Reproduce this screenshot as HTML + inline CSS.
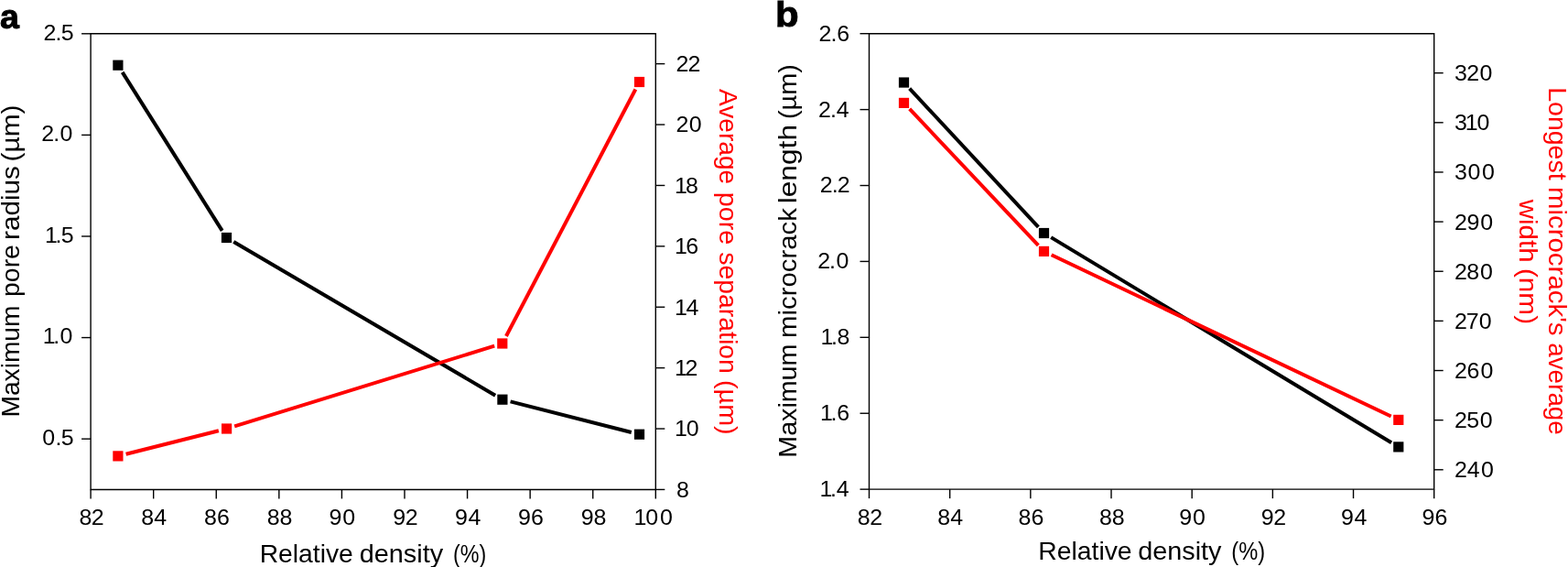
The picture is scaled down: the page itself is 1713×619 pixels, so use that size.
<!DOCTYPE html>
<html lang="en"><head><meta charset="utf-8"><title>Figure</title>
<style>
html,body{margin:0;padding:0;background:#fff;}
svg{display:block;font-family:'Liberation Sans', sans-serif;}
</style></head>
<body>
<svg width="1713" height="619" viewBox="0 0 1713 619">
<rect width="1713" height="619" fill="#fff"/>
<text transform="translate(0 613.75)" font-size="27.2" fill="#000"><tspan x="283.65" textLength="102.17" lengthAdjust="spacingAndGlyphs">Relative</tspan> <tspan x="392.74" textLength="91.39" lengthAdjust="spacingAndGlyphs">density</tspan> <tspan x="494.91" textLength="36.27" lengthAdjust="spacingAndGlyphs">(%)</tspan></text>
<text transform="translate(0 610.60)" font-size="27.2" fill="#000"><tspan x="1134.25" textLength="102.38" lengthAdjust="spacingAndGlyphs">Relative</tspan> <tspan x="1243.24" textLength="91.29" lengthAdjust="spacingAndGlyphs">density</tspan> <tspan x="1345.29" textLength="36.81" lengthAdjust="spacingAndGlyphs">(%)</tspan></text>
<text transform="translate(21.30 0) rotate(-90)" font-size="27.2" fill="#000"><tspan x="-455.54" textLength="122.01" lengthAdjust="spacingAndGlyphs">Maximum</tspan> <tspan x="-323.95" textLength="56.80" lengthAdjust="spacingAndGlyphs">pore</tspan> <tspan x="-262.00" textLength="80.96" lengthAdjust="spacingAndGlyphs">radius</tspan> <tspan x="-176.51" textLength="62.04" lengthAdjust="spacingAndGlyphs">(µm)</tspan></text>
<text transform="translate(785.50 0) rotate(90)" font-size="27.2" fill="#ff0000"><tspan x="97.12" textLength="104.07" lengthAdjust="spacingAndGlyphs">Average</tspan> <tspan x="209.82" textLength="57.54" lengthAdjust="spacingAndGlyphs">pore</tspan> <tspan x="275.27" textLength="132.57" lengthAdjust="spacingAndGlyphs">separation</tspan> <tspan x="415.07" textLength="59.59" lengthAdjust="spacingAndGlyphs">(µm)</tspan></text>
<text transform="translate(870.20 0) rotate(-90)" font-size="27.2" fill="#000"><tspan x="-499.67" textLength="123.98" lengthAdjust="spacingAndGlyphs">Maximum</tspan> <tspan x="-368.99" textLength="141.94" lengthAdjust="spacingAndGlyphs">microcrack</tspan> <tspan x="-222.33" textLength="86.34" lengthAdjust="spacingAndGlyphs">length</tspan> <tspan x="-130.04" textLength="60.01" lengthAdjust="spacingAndGlyphs">(µm)</tspan></text>
<text transform="translate(1692.00 0) rotate(90)" font-size="27.2" fill="#ff0000"><tspan x="95.24" textLength="101.32" lengthAdjust="spacingAndGlyphs">Longest</tspan> <tspan x="203.90" textLength="162.70" lengthAdjust="spacingAndGlyphs">microcrack's</tspan> <tspan x="374.23" textLength="100.61" lengthAdjust="spacingAndGlyphs">average</tspan></text>
<text transform="translate(1660.10 0) rotate(90)" font-size="27.2" fill="#ff0000"><tspan x="217.79" textLength="68.74" lengthAdjust="spacingAndGlyphs">width</tspan> <tspan x="292.90" textLength="61.18" lengthAdjust="spacingAndGlyphs">(nm)</tspan></text>
<path d="M99.10 36.80H716.30V534.45H99.10Z" fill="none" stroke="#000" stroke-width="1.4" stroke-linejoin="miter"/>
<line x1="99.10" y1="534.45" x2="99.10" y2="544.45" stroke="#000" stroke-width="1.4" stroke-linecap="butt"/>
<text transform="translate(86.55 573.10) scale(1.04 1)" x="-0.09 12.75" font-size="24" fill="#000">82</text>
<line x1="167.68" y1="534.45" x2="167.68" y2="544.45" stroke="#000" stroke-width="1.4" stroke-linecap="butt"/>
<text transform="translate(154.23 573.10) scale(1.04 1)" x="-0.09 13.61" font-size="24" fill="#000">84</text>
<line x1="236.26" y1="534.45" x2="236.26" y2="544.45" stroke="#000" stroke-width="1.4" stroke-linecap="butt"/>
<text transform="translate(223.11 573.10) scale(1.04 1)" x="-0.09 13.33" font-size="24" fill="#000">86</text>
<line x1="304.83" y1="534.45" x2="304.83" y2="544.45" stroke="#000" stroke-width="1.4" stroke-linecap="butt"/>
<text transform="translate(291.93 573.10) scale(1.04 1)" x="-0.09 13.09" font-size="24" fill="#000">88</text>
<line x1="373.41" y1="534.45" x2="373.41" y2="544.45" stroke="#000" stroke-width="1.4" stroke-linecap="butt"/>
<text transform="translate(359.41 573.10) scale(1.04 1)" x="0.06 14.29" font-size="24" fill="#000">90</text>
<line x1="441.99" y1="534.45" x2="441.99" y2="544.45" stroke="#000" stroke-width="1.4" stroke-linecap="butt"/>
<text transform="translate(429.29 573.10) scale(1.04 1)" x="0.06 13.04" font-size="24" fill="#000">92</text>
<line x1="510.57" y1="534.45" x2="510.57" y2="544.45" stroke="#000" stroke-width="1.4" stroke-linecap="butt"/>
<text transform="translate(496.97 573.10) scale(1.04 1)" x="0.06 13.90" font-size="24" fill="#000">94</text>
<line x1="579.14" y1="534.45" x2="579.14" y2="544.45" stroke="#000" stroke-width="1.4" stroke-linecap="butt"/>
<text transform="translate(565.84 573.10) scale(1.04 1)" x="0.06 13.61" font-size="24" fill="#000">96</text>
<line x1="647.72" y1="534.45" x2="647.72" y2="544.45" stroke="#000" stroke-width="1.4" stroke-linecap="butt"/>
<text transform="translate(634.67 573.10) scale(1.04 1)" x="0.06 13.37" font-size="24" fill="#000">98</text>
<line x1="716.30" y1="534.45" x2="716.30" y2="544.45" stroke="#000" stroke-width="1.4" stroke-linecap="butt"/>
<text transform="translate(694.50 573.10) scale(1.04 1)" x="-1.87 10.44 25.44" font-size="24" fill="#000">100</text>
<line x1="89.10" y1="479.16" x2="99.10" y2="479.16" stroke="#000" stroke-width="1.4" stroke-linecap="butt"/>
<text transform="translate(45.30 485.86) scale(1.04 1)" x="0.83 14.55 20.54" font-size="24" fill="#000">0.5</text>
<line x1="89.10" y1="368.57" x2="99.10" y2="368.57" stroke="#000" stroke-width="1.4" stroke-linecap="butt"/>
<text transform="translate(48.70 375.27) scale(1.04 1)" x="-1.87 9.17 16.21" font-size="24" fill="#000">1.0</text>
<line x1="89.10" y1="257.98" x2="99.10" y2="257.98" stroke="#000" stroke-width="1.4" stroke-linecap="butt"/>
<text transform="translate(50.90 264.68) scale(1.04 1)" x="-1.87 9.17 15.15" font-size="24" fill="#000">1.5</text>
<line x1="89.10" y1="147.39" x2="99.10" y2="147.39" stroke="#000" stroke-width="1.4" stroke-linecap="butt"/>
<text transform="translate(45.70 154.09) scale(1.04 1)" x="-0.42 12.05 19.10" font-size="24" fill="#000">2.0</text>
<line x1="89.10" y1="36.80" x2="99.10" y2="36.80" stroke="#000" stroke-width="1.4" stroke-linecap="butt"/>
<text transform="translate(47.90 43.50) scale(1.04 1)" x="-0.42 12.05 18.04" font-size="24" fill="#000">2.5</text>
<line x1="716.30" y1="534.45" x2="726.30" y2="534.45" stroke="#000" stroke-width="1.4" stroke-linecap="butt"/>
<text transform="translate(739.00 542.75) scale(1.04 1)" x="-0.09" font-size="24" fill="#000">8</text>
<line x1="716.30" y1="468.05" x2="726.30" y2="468.05" stroke="#000" stroke-width="1.4" stroke-linecap="butt"/>
<text transform="translate(739.00 476.35) scale(1.04 1)" x="-1.87 10.44" font-size="24" fill="#000">10</text>
<line x1="716.30" y1="401.65" x2="726.30" y2="401.65" stroke="#000" stroke-width="1.4" stroke-linecap="butt"/>
<text transform="translate(739.00 409.95) scale(1.04 1)" x="-1.87 9.19" font-size="24" fill="#000">12</text>
<line x1="716.30" y1="335.25" x2="726.30" y2="335.25" stroke="#000" stroke-width="1.4" stroke-linecap="butt"/>
<text transform="translate(739.00 343.55) scale(1.04 1)" x="-1.87 10.06" font-size="24" fill="#000">14</text>
<line x1="716.30" y1="268.85" x2="726.30" y2="268.85" stroke="#000" stroke-width="1.4" stroke-linecap="butt"/>
<text transform="translate(739.00 277.15) scale(1.04 1)" x="-1.87 9.77" font-size="24" fill="#000">16</text>
<line x1="716.30" y1="202.45" x2="726.30" y2="202.45" stroke="#000" stroke-width="1.4" stroke-linecap="butt"/>
<text transform="translate(739.00 210.75) scale(1.04 1)" x="-1.87 9.53" font-size="24" fill="#000">18</text>
<line x1="716.30" y1="136.05" x2="726.30" y2="136.05" stroke="#000" stroke-width="1.4" stroke-linecap="butt"/>
<text transform="translate(739.00 144.35) scale(1.04 1)" x="-0.42 13.33" font-size="24" fill="#000">20</text>
<line x1="716.30" y1="69.65" x2="726.30" y2="69.65" stroke="#000" stroke-width="1.4" stroke-linecap="butt"/>
<text transform="translate(739.00 77.95) scale(1.04 1)" x="-0.42 12.08" font-size="24" fill="#000">22</text>
<line x1="133.70" y1="78.82" x2="242.70" y2="251.88" stroke="#000" stroke-width="4.0" stroke-linecap="butt"/>
<line x1="255.26" y1="264.05" x2="541.14" y2="431.65" stroke="#000" stroke-width="4.0" stroke-linecap="butt"/>
<line x1="557.62" y1="438.42" x2="689.78" y2="471.98" stroke="#000" stroke-width="4.0" stroke-linecap="butt"/>
<rect x="123.30" y="65.60" width="11.2" height="11.2" fill="#000"/>
<rect x="241.90" y="253.90" width="11.2" height="11.2" fill="#000"/>
<rect x="543.30" y="430.60" width="11.2" height="11.2" fill="#000"/>
<rect x="692.90" y="468.60" width="11.2" height="11.2" fill="#000"/>
<line x1="137.63" y1="495.70" x2="238.87" y2="470.20" stroke="#ff0000" stroke-width="4.0" stroke-linecap="butt"/>
<line x1="256.20" y1="465.34" x2="540.20" y2="377.66" stroke="#ff0000" stroke-width="4.0" stroke-linecap="butt"/>
<line x1="552.98" y1="367.03" x2="694.32" y2="97.47" stroke="#ff0000" stroke-width="4.0" stroke-linecap="butt"/>
<rect x="123.30" y="492.30" width="11.2" height="11.2" fill="#ff0000"/>
<rect x="242.00" y="462.40" width="11.2" height="11.2" fill="#ff0000"/>
<rect x="543.20" y="369.40" width="11.2" height="11.2" fill="#ff0000"/>
<rect x="692.90" y="83.90" width="11.2" height="11.2" fill="#ff0000"/>
<text x="0.10" y="31.10" font-size="37.5" text-anchor="start" fill="#000" font-weight="bold" stroke="#000" stroke-width="1.0">a</text>
<path d="M949.50 36.70H1566.70V534.15H949.50Z" fill="none" stroke="#000" stroke-width="1.4" stroke-linejoin="miter"/>
<line x1="949.50" y1="534.15" x2="949.50" y2="544.15" stroke="#000" stroke-width="1.4" stroke-linecap="butt"/>
<text transform="translate(936.95 573.10) scale(1.04 1)" x="-0.09 12.75" font-size="24" fill="#000">82</text>
<line x1="1037.67" y1="534.15" x2="1037.67" y2="544.15" stroke="#000" stroke-width="1.4" stroke-linecap="butt"/>
<text transform="translate(1024.22 573.10) scale(1.04 1)" x="-0.09 13.61" font-size="24" fill="#000">84</text>
<line x1="1125.84" y1="534.15" x2="1125.84" y2="544.15" stroke="#000" stroke-width="1.4" stroke-linecap="butt"/>
<text transform="translate(1112.69 573.10) scale(1.04 1)" x="-0.09 13.33" font-size="24" fill="#000">86</text>
<line x1="1214.01" y1="534.15" x2="1214.01" y2="544.15" stroke="#000" stroke-width="1.4" stroke-linecap="butt"/>
<text transform="translate(1201.11 573.10) scale(1.04 1)" x="-0.09 13.09" font-size="24" fill="#000">88</text>
<line x1="1302.19" y1="534.15" x2="1302.19" y2="544.15" stroke="#000" stroke-width="1.4" stroke-linecap="butt"/>
<text transform="translate(1288.19 573.10) scale(1.04 1)" x="0.06 14.29" font-size="24" fill="#000">90</text>
<line x1="1390.36" y1="534.15" x2="1390.36" y2="544.15" stroke="#000" stroke-width="1.4" stroke-linecap="butt"/>
<text transform="translate(1377.66 573.10) scale(1.04 1)" x="0.06 13.04" font-size="24" fill="#000">92</text>
<line x1="1478.53" y1="534.15" x2="1478.53" y2="544.15" stroke="#000" stroke-width="1.4" stroke-linecap="butt"/>
<text transform="translate(1464.93 573.10) scale(1.04 1)" x="0.06 13.90" font-size="24" fill="#000">94</text>
<line x1="1566.70" y1="534.15" x2="1566.70" y2="544.15" stroke="#000" stroke-width="1.4" stroke-linecap="butt"/>
<text transform="translate(1553.40 573.10) scale(1.04 1)" x="0.06 13.61" font-size="24" fill="#000">96</text>
<line x1="939.50" y1="534.15" x2="949.50" y2="534.15" stroke="#000" stroke-width="1.4" stroke-linecap="butt"/>
<text transform="translate(897.40 542.05) scale(1.04 1)" x="-1.87 9.17 15.83" font-size="24" fill="#000">1.4</text>
<line x1="939.50" y1="451.24" x2="949.50" y2="451.24" stroke="#000" stroke-width="1.4" stroke-linecap="butt"/>
<text transform="translate(898.00 459.14) scale(1.04 1)" x="-1.87 9.17 15.54" font-size="24" fill="#000">1.6</text>
<line x1="939.50" y1="368.33" x2="949.50" y2="368.33" stroke="#000" stroke-width="1.4" stroke-linecap="butt"/>
<text transform="translate(898.50 376.23) scale(1.04 1)" x="-1.87 9.17 15.30" font-size="24" fill="#000">1.8</text>
<line x1="939.50" y1="285.42" x2="949.50" y2="285.42" stroke="#000" stroke-width="1.4" stroke-linecap="butt"/>
<text transform="translate(893.60 293.32) scale(1.04 1)" x="-0.42 12.05 19.10" font-size="24" fill="#000">2.0</text>
<line x1="939.50" y1="202.52" x2="949.50" y2="202.52" stroke="#000" stroke-width="1.4" stroke-linecap="butt"/>
<text transform="translate(896.20 210.42) scale(1.04 1)" x="-0.42 12.05 17.85" font-size="24" fill="#000">2.2</text>
<line x1="939.50" y1="119.61" x2="949.50" y2="119.61" stroke="#000" stroke-width="1.4" stroke-linecap="butt"/>
<text transform="translate(894.40 127.51) scale(1.04 1)" x="-0.42 12.05 18.71" font-size="24" fill="#000">2.4</text>
<line x1="939.50" y1="36.70" x2="949.50" y2="36.70" stroke="#000" stroke-width="1.4" stroke-linecap="butt"/>
<text transform="translate(895.00 44.60) scale(1.04 1)" x="-0.42 12.05 18.42" font-size="24" fill="#000">2.6</text>
<line x1="1566.70" y1="512.80" x2="1576.70" y2="512.80" stroke="#000" stroke-width="1.4" stroke-linecap="butt"/>
<text transform="translate(1589.40 521.30) scale(1.04 1)" x="-0.42 12.94 27.56" font-size="24" fill="#000">240</text>
<line x1="1566.70" y1="458.66" x2="1576.70" y2="458.66" stroke="#000" stroke-width="1.4" stroke-linecap="butt"/>
<text transform="translate(1589.40 467.16) scale(1.04 1)" x="-0.42 12.27 26.21" font-size="24" fill="#000">250</text>
<line x1="1566.70" y1="404.52" x2="1576.70" y2="404.52" stroke="#000" stroke-width="1.4" stroke-linecap="butt"/>
<text transform="translate(1589.40 413.02) scale(1.04 1)" x="-0.42 12.65 26.98" font-size="24" fill="#000">260</text>
<line x1="1566.70" y1="350.38" x2="1576.70" y2="350.38" stroke="#000" stroke-width="1.4" stroke-linecap="butt"/>
<text transform="translate(1589.40 358.88) scale(1.04 1)" x="-0.42 11.79 25.25" font-size="24" fill="#000">270</text>
<line x1="1566.70" y1="296.24" x2="1576.70" y2="296.24" stroke="#000" stroke-width="1.4" stroke-linecap="butt"/>
<text transform="translate(1589.40 304.74) scale(1.04 1)" x="-0.42 12.41 26.50" font-size="24" fill="#000">280</text>
<line x1="1566.70" y1="242.10" x2="1576.70" y2="242.10" stroke="#000" stroke-width="1.4" stroke-linecap="butt"/>
<text transform="translate(1589.40 250.60) scale(1.04 1)" x="-0.42 12.56 26.79" font-size="24" fill="#000">290</text>
<line x1="1566.70" y1="187.96" x2="1576.70" y2="187.96" stroke="#000" stroke-width="1.4" stroke-linecap="butt"/>
<text transform="translate(1589.40 196.46) scale(1.04 1)" x="-0.33 13.52 28.52" font-size="24" fill="#000">300</text>
<line x1="1566.70" y1="133.82" x2="1576.70" y2="133.82" stroke="#000" stroke-width="1.4" stroke-linecap="butt"/>
<text transform="translate(1589.40 142.32) scale(1.04 1)" x="-0.33 10.83 23.13" font-size="24" fill="#000">310</text>
<line x1="1566.70" y1="79.68" x2="1576.70" y2="79.68" stroke="#000" stroke-width="1.4" stroke-linecap="butt"/>
<text transform="translate(1589.40 88.18) scale(1.04 1)" x="-0.33 12.27 26.02" font-size="24" fill="#000">320</text>
<line x1="993.63" y1="96.64" x2="1134.37" y2="247.91" stroke="#000" stroke-width="4.0" stroke-linecap="butt"/>
<line x1="1148.21" y1="259.15" x2="1520.09" y2="483.25" stroke="#000" stroke-width="4.0" stroke-linecap="butt"/>
<rect x="981.90" y="84.45" width="11.2" height="11.2" fill="#000"/>
<rect x="1134.90" y="248.90" width="11.2" height="11.2" fill="#000"/>
<rect x="1522.20" y="482.30" width="11.2" height="11.2" fill="#000"/>
<line x1="993.68" y1="118.94" x2="1134.32" y2="267.86" stroke="#ff0000" stroke-width="4.0" stroke-linecap="butt"/>
<line x1="1148.63" y1="278.26" x2="1519.67" y2="454.54" stroke="#ff0000" stroke-width="4.0" stroke-linecap="butt"/>
<rect x="981.90" y="106.80" width="11.2" height="11.2" fill="#ff0000"/>
<rect x="1134.90" y="268.80" width="11.2" height="11.2" fill="#ff0000"/>
<rect x="1522.20" y="452.80" width="11.2" height="11.2" fill="#ff0000"/>
<text transform="translate(846.9 29.2) scale(1.12 1.04)" font-size="37.5" font-weight="bold" fill="#000" stroke="#000" stroke-width="0.9">b</text>
</svg>
</body></html>
